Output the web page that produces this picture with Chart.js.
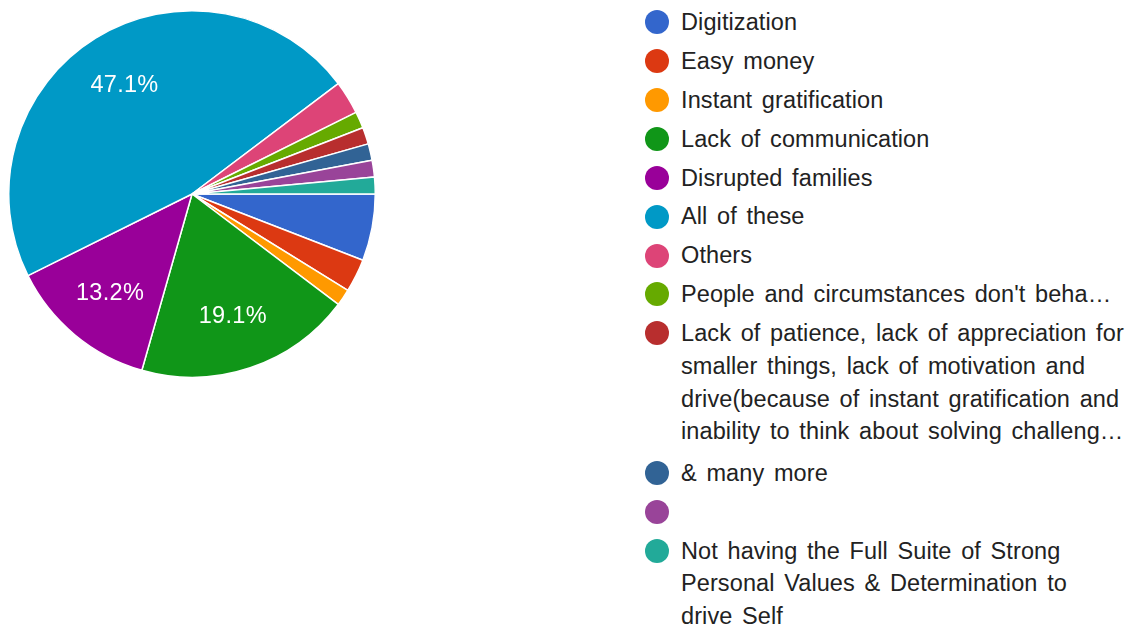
<!DOCTYPE html>
<html>
<head>
<meta charset="utf-8">
<script src="https://cdn.jsdelivr.net/npm/chart.js@4/dist/chart.umd.min.js"></script>
<style>
    body { margin: 0; background: #fff; font-family: "Liberation Sans", Arial, sans-serif; }
    #wrap { position: relative; width: 1139px; height: 628px; overflow: hidden; }
    #pieBox { position: absolute; left: 8px; top: 10px; width: 368px; height: 368px; }
    #legend { position: absolute; left: 645px; top: 6px; width: 494px; }
    .item { display: flex; align-items: flex-start; margin-bottom: 6.2px; }
    .item.multi { margin-bottom: 9.2px; }
    .dot { width: 24px; height: 24px; border-radius: 50%; margin-top: 4.25px; margin-right: 12px; flex: none; }
    .txt { font-size: 23.5px; line-height: 32.7px; color: #222; white-space: nowrap; min-height: 32.5px;
           word-spacing: 3px; letter-spacing: 0.1px; }
</style>
</head>
<body>
<div id="wrap">
    <div id="pieBox"><canvas id="pieChart"></canvas></div>
    <div id="legend"></div>
</div>
<script>
// answers, in the order of the legend
var categories = [
    ['Digitization'],
    ['Easy money'],
    ['Instant gratification'],
    ['Lack of communication'],
    ['Disrupted families'],
    ['All of these'],
    ['Others'],
    ["People and circumstances don't beha\u2026"],
    ['Lack of patience, lack of appreciation for', 'smaller things, lack of motivation and', 'drive(because of instant gratification and', 'inability to think about solving challeng\u2026'],
    ['& many more'],
    [''],
    ['Not having the Full Suite of Strong', 'Personal Values & Determination to', 'drive Self']
];
// number of responses per answer (68 total)
var responses = [4, 2, 1, 13, 9, 32, 2, 1, 1, 1, 1, 1];
var colors = ['#3366cc', '#dc3912', '#ff9900', '#109618', '#990099', '#0099c6',
    '#dd4477', '#66aa00', '#b82e2e', '#316395', '#994499', '#22aa99'];
var LABEL_MIN = 10; // percent, smaller slices get no label

var total = responses.reduce(function (a, b) { return a + b; }, 0);

/* percent labels inside the slices */
var sliceText = {
    id: 'sliceText',
    afterDatasetsDraw: function (chart) {
        var c = chart.ctx;
        var meta = chart.getDatasetMeta(0);
        c.save();
        c.fillStyle = '#fff';
        c.font = '23.5px "Liberation Sans", Arial, sans-serif';
        c.letterSpacing = '0.3px';
        c.textAlign = 'center';
        c.textBaseline = 'middle';
        meta.data.forEach(function (arc, i) {
            var pct = responses[i] / total * 100;
            if (pct < LABEL_MIN) return;
            var p = arc.getProps(['x', 'y', 'startAngle', 'endAngle', 'outerRadius'], true);
            var mid = (p.startAngle + p.endAngle) / 2;
            var r = p.outerRadius * 0.7;
            c.fillText(pct.toFixed(1) + '%', p.x + Math.cos(mid) * r, p.y + Math.sin(mid) * r + 1);
        });
        c.restore();
    }
};

var ctx = document.getElementById('pieChart').getContext('2d');
var myChart = new Chart(ctx, {
    type: 'pie',
    data: {
        labels: categories.map(function (l) { return l.join(' '); }),
        datasets: [{
            data: responses,
            backgroundColor: colors,
            borderColor: '#fff',
            borderWidth: 1.5
        }]
    },
    options: {
        responsive: true,
        maintainAspectRatio: false,
        animation: false,
        rotation: 90,
        layout: { padding: 0 },
        plugins: {
            legend: { display: false },
            tooltip: { enabled: false }
        }
    },
    plugins: [sliceText]
});

/* legend on the right */
var legend = document.getElementById('legend');
categories.forEach(function (lines, i) {
    var item = document.createElement('div');
    item.className = 'item' + (lines.length > 1 ? ' multi' : '');
    var dot = document.createElement('span');
    dot.className = 'dot';
    dot.style.background = colors[i];
    var txt = document.createElement('div');
    txt.className = 'txt';
    lines.forEach(function (line, k) {
        if (k > 0) txt.appendChild(document.createElement('br'));
        txt.appendChild(document.createTextNode(line));
    });
    item.appendChild(dot);
    item.appendChild(txt);
    legend.appendChild(item);
});
</script>
</body>
</html>
